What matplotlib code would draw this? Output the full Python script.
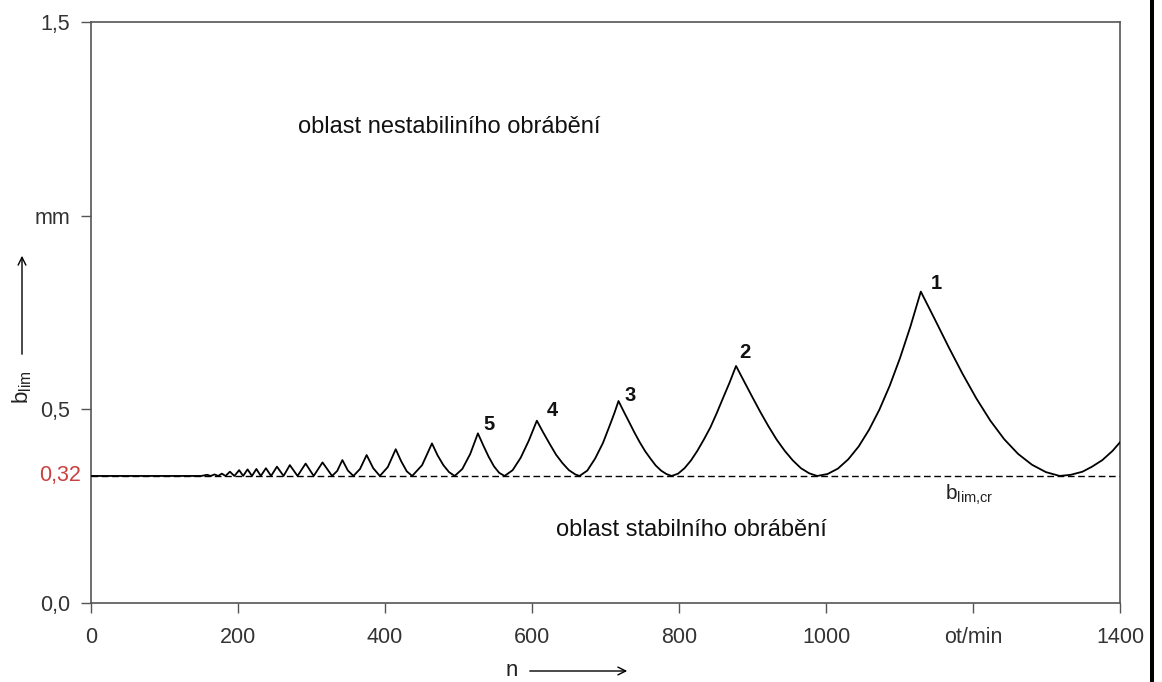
import matplotlib
matplotlib.use('Agg')
import matplotlib.pyplot as plt
from matplotlib.patches import FancyArrowPatch, Rectangle

plt.rcParams['font.family'] = ['Liberation Sans', 'DejaVu Sans']
plt.rcParams['mathtext.fontset'] = 'custom'
plt.rcParams['mathtext.rm'] = 'Liberation Sans'
plt.rcParams['mathtext.it'] = 'Liberation Sans:italic'

# ---- data ----
B_CR = 0.328  # critical limit depth (labelled 0,32)

# stability-lobe curve, points (n in ot/min, b_lim in mm)
N_RPM = [0, 150, 158, 163, 168, 173, 178, 183,
         189, 195, 201.6, 207, 213, 219, 225, 231, 238, 245,
         253, 262, 270.5, 281, 292, 303, 315, 328,
         335, 342, 349.5, 357,
         366, 375, 384, 393,
         403.8, 414.6, 422.0, 429.6, 437,
         450.5, 463.9, 471.6, 479.4, 487.1, 494.8,
         505.2, 516.0, 526.4, 533.7, 540.9, 548.2, 555.4, 562.7,
         573.7, 584.6, 595.6, 606.6, 615.3, 624.0, 632.7, 641.5, 650.2, 658.9, 664.7,
         675.3, 685.9, 696.5, 707.1, 712.4, 717.7,
         724.9, 732.2, 739.4, 746.6, 753.9, 761.1, 768.3, 775.5, 782.8, 790,
         798.8, 807.5, 816.3, 825.0, 833.8, 842.6, 851.3, 860.1, 868.8, 877.6,
         888.6, 899.7, 910.7, 921.8, 932.8, 943.8, 954.9, 965.9, 977.0, 988,
         1002.1, 1016.2, 1030.3, 1044.4, 1058.5, 1072.6, 1086.7, 1100.8, 1114.9, 1129,
         1147.9, 1166.8, 1185.7, 1204.6, 1223.5, 1242.4, 1261.3, 1280.2, 1299.1, 1318,
         1333, 1349, 1362, 1376, 1390, 1400]
B_LIM = [0.328, 0.328, 0.331, 0.328, 0.332, 0.328, 0.334, 0.328,
         0.339, 0.328, 0.343, 0.328, 0.345, 0.328, 0.346, 0.328, 0.348, 0.328,
         0.352, 0.328, 0.356, 0.328, 0.360, 0.328, 0.363, 0.328,
         0.341, 0.369, 0.342, 0.328,
         0.346, 0.382, 0.348, 0.328,
         0.351, 0.397, 0.366, 0.340, 0.328,
         0.356, 0.412, 0.381, 0.356, 0.338, 0.328,
         0.346, 0.385, 0.438, 0.407, 0.378, 0.353, 0.336, 0.328,
         0.343, 0.375, 0.419, 0.4707, 0.440, 0.411, 0.383, 0.361, 0.343, 0.332, 0.328,
         0.342, 0.373, 0.413, 0.465, 0.492, 0.5215,
         0.494, 0.467, 0.440, 0.415, 0.392, 0.373, 0.355, 0.342, 0.333, 0.328,
         0.334, 0.348, 0.368, 0.393, 0.422, 0.453, 0.490, 0.530, 0.569, 0.612,
         0.572, 0.532, 0.493, 0.456, 0.422, 0.393, 0.368, 0.348, 0.335, 0.328,
         0.333, 0.347, 0.371, 0.404, 0.447, 0.499, 0.561, 0.633, 0.714, 0.804,
         0.733, 0.661, 0.592, 0.528, 0.471, 0.423, 0.385, 0.357, 0.338, 0.328,
         0.331, 0.339, 0.352, 0.369, 0.393, 0.415]

X_TICKS = [0, 200, 400, 600, 800, 1000, 1200, 1400]
X_TICK_LABELS = ['0', '200', '400', '600', '800', '1000', 'ot/min', '1400']
Y_TICKS = [0.0, 0.5, 1.0, 1.5]
Y_TICK_LABELS = ['0,0', '0,5', 'mm', '1,5']
B_CR_LABEL = '0,32'

LOBE_LABELS = ['1', '2', '3', '4', '5']
LOBE_LABEL_POS = [(1150, 0.826), (890, 0.646), (734, 0.537), (627, 0.496), (541, 0.460)]

TXT_UNSTABLE = 'oblast nestabiliního obrábění'
TXT_STABLE = 'oblast stabilního obrábění'

# ---- figure ----
W, H = 1162, 682
fig = plt.figure(figsize=(W / 100, H / 100), dpi=100, facecolor='white')
ax = fig.add_axes([91 / W, 1 - 603 / H, (1120 - 91) / W, (603 - 22) / H])

ax.axhline(B_CR, color='black', lw=1.0, ls=(0, (4.8, 2.6)), zorder=2)
ax.plot(N_RPM, B_LIM, color='black', lw=1.3, zorder=3, solid_joinstyle='round')

ax.set_xlim(0, 1400)
ax.set_ylim(0, 1.5)
ax.set_xticks(X_TICKS)
ax.set_xticklabels(X_TICK_LABELS)
ax.set_yticks(Y_TICKS)
ax.set_yticklabels(Y_TICK_LABELS)

spine_col = '#555555'
for s in ax.spines.values():
    s.set_color(spine_col)
    s.set_linewidth(1.2)
ax.tick_params(axis='both', direction='out', length=7, width=1, color=spine_col,
               labelsize=15.5, labelcolor='#333333')
ax.tick_params(axis='y', pad=8)
ax.tick_params(axis='x', pad=10)

ax.annotate(B_CR_LABEL, xy=(0, B_CR), xycoords=('axes fraction', 'data'),
            xytext=(-7, 0), textcoords='offset points', ha='right', va='center',
            color='#c94040', fontsize=15.5)

for lab, (xn, yb) in zip(LOBE_LABELS, LOBE_LABEL_POS):
    ax.text(xn, yb, lab, fontsize=14.5, fontweight='bold', ha='center', va='center',
            color='#111111')

ax.text(281, 1.229, TXT_UNSTABLE, fontsize=17, ha='left', va='center', color='#111111')
ax.text(633, 0.188, TXT_STABLE, fontsize=17, ha='left', va='center', color='#111111')
ax.text(1162, 0.279, r'b$_{\mathrm{lim{,}cr}}$', fontsize=15, ha='left', va='center',
        color='#222222')

# axis labels with arrows
fig.text(22 / W, 1 - 387 / H, r'b$_{\mathrm{lim}}$', rotation=90, fontsize=16,
         ha='center', va='center', color='#222222')
fig.add_artist(FancyArrowPatch((22 / W, 1 - 357 / H), (22 / W, 1 - 253 / H),
                               transform=fig.transFigure, arrowstyle='->',
                               mutation_scale=14, lw=1.0, color='black'))
fig.text(512 / W, 1 - 671 / H, 'n', fontsize=16, ha='center', va='center', color='#222222')
fig.add_artist(FancyArrowPatch((527 / W, 1 - 671 / H), (630 / W, 1 - 671 / H),
                               transform=fig.transFigure, arrowstyle='->',
                               mutation_scale=14, lw=1.0, color='black'))

# black frame bar on the right edge
fig.add_artist(Rectangle((1150 / W, 0), 4 / W, 1, transform=fig.transFigure,
                         color='black', lw=0))

fig.savefig('out.png', dpi=100, facecolor='white')
